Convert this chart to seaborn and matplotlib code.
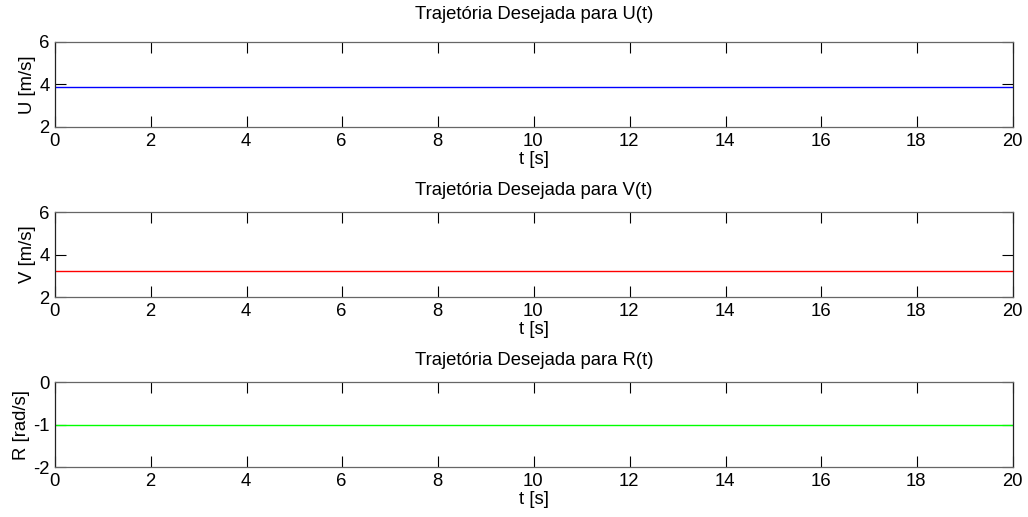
import pandas as pd
import seaborn as sns
import matplotlib.pyplot as plt
from matplotlib.transforms import ScaledTranslation

# desired trajectories (constant references)
t = [0, 20]
u_ref = [3.9, 3.9]
v_ref = [3.22, 3.22]
r_ref = [-1.0, -1.0]

titles = ['Trajetória Desejada para U(t)', 'Trajetória Desejada para V(t)', 'Trajetória Desejada para R(t)']
ylabels = ['U [m/s]', 'V [m/s]', 'R [rad/s]']
ylims = [(2, 6), (2, 6), (-2, 0)]
yticks = [[2, 4, 6], [2, 4, 6], [-2, -1, 0]]
colors = ['#0000ff', '#ff0000', '#00ff00']

sns.set_style('white')
plt.rcParams['font.family'] = ['Liberation Sans', 'DejaVu Sans']
plt.rcParams['axes.unicode_minus'] = False
plt.rcParams['text.color'] = 'black'
plt.rcParams['axes.labelcolor'] = 'black'

fig = plt.figure(figsize=(10.28, 5.17), dpi=100)
bottoms = [0.7544, 0.4255, 0.0967]
title_pads = [16.5, 12, 12]
series = [u_ref, v_ref, r_ref]
fs = 13.3

for i in range(3):
    ax = fig.add_axes([0.0535, bottoms[i], 0.932, 0.1644])
    df = pd.DataFrame({'t': t, 'y': series[i]})
    sns.lineplot(x='t', y='y', data=df, ax=ax, color=colors[i], linewidth=1)
    ax.set_xlim(0, 20)
    ax.set_ylim(*ylims[i])
    ax.set_xticks(range(0, 21, 2))
    ax.set_yticks(yticks[i])
    ax.set_title(titles[i], fontsize=fs, pad=title_pads[i], color='black')
    ax.set_xlabel('t [s]', fontsize=fs, labelpad=1)
    ax.set_ylabel(ylabels[i], fontsize=fs, labelpad=2)
    ax.tick_params(direction='in', length=8, width=0.8, top=True, right=True,
                   bottom=True, left=True, labelsize=fs, colors='black')
    ax.tick_params(axis='x', pad=4)
    ax.tick_params(axis='y', pad=4)
    for lab in ax.get_xticklabels():
        lab.set_transform(lab.get_transform() + ScaledTranslation(-1 / 100, 0, fig.dpi_scale_trans))
    for side in ['top', 'bottom']:
        ax.spines[side].set_color('#666666')
    for side in ['left', 'right']:
        ax.spines[side].set_color('#222222')
    for s in ax.spines.values():
        s.set_linewidth(0.9)

fig.savefig('out.png', dpi=100)
